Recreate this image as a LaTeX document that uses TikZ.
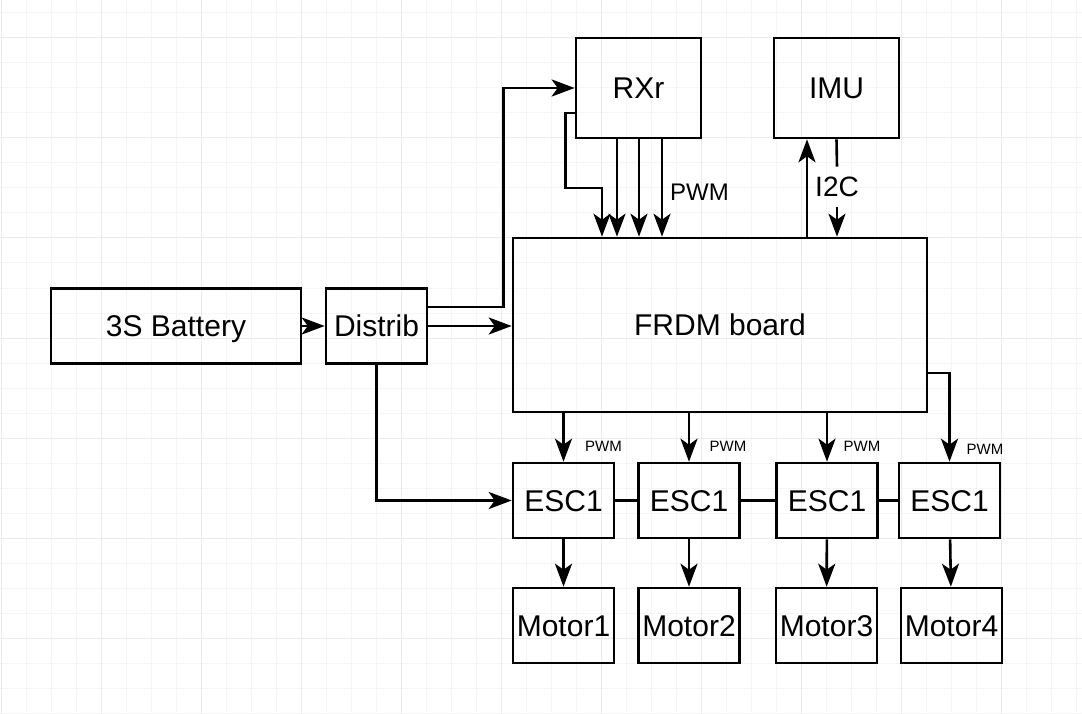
\documentclass[tikz,border=0pt]{standalone}
\usepackage{fontspec}
\setmainfont{Liberation Sans}
\usepackage{tikz}
\usetikzlibrary{calc, arrows.meta}

\begin{document}
\begin{tikzpicture}[x=1pt, y=-1pt, every path/.style={line width=2.6pt},
		blk/.style={draw, rectangle, inner sep=0pt, font=\fontsize{30}{35}\selectfont, text height=21.5pt, text depth=0pt},
		lbl/.style={inner sep=0pt, text depth=0pt},
		arr/.style={-{Stealth[length=23pt, width=17pt, inset=6pt]}},
		gridmin/.style={line width=1pt, black!4},
		gridmaj/.style={line width=1pt, black!8}]
			\useasboundingbox[fill=white] (0,0) rectangle (1082,714);
			\foreach \gx in {1,26,...,1076} \draw[gridmin] (\gx,0) -- (\gx,714);
			\foreach \gy in {13,38,...,713} \draw[gridmin] (0,\gy) -- (1082,\gy);
			\foreach \gx in {1,101,...,1001} \draw[gridmaj] (\gx,0) -- (\gx,714);
			\foreach \gy in {38,138,...,638} \draw[gridmaj] (0,\gy) -- (1082,\gy);
			\node[blk, minimum width=250, minimum height=75] (batt) at (176,326) {3S Battery};
			\node[blk, minimum width=101, minimum height=75] (dist) at (376.5,326) {Distrib};
			\node[blk, minimum width=414, minimum height=174] (frdm) at (720,325) {FRDM board};
			\node[blk, minimum width=125, minimum height=100] (rx) at (638.5,88) {RXr};
			\node[blk, minimum width=125, minimum height=100] (imu) at (836.5,88) {IMU};
			\foreach \i/\ex/\mx in {1/563.5/563.5, 2/689/689, 3/827/826.5, 4/949.5/951.5} {
				\node[blk, minimum width=101, minimum height=75] (esc\i) at (\ex,500.5) {ESC1};
				\node[blk, minimum width=101, minimum height=75] (m\i) at (\mx,625.5) {Motor\i};
			}
			\node[lbl, font=\fontsize{24}{28}\selectfont, text height=17pt] (pwmrx) at (699.5,192) {PWM};
			\node[lbl, font=\fontsize{28}{32}\selectfont, text height=20pt, inner ysep=9pt] (i2c) at (837,187) {I2C};
			\foreach \px/\py [count=\i] in {603.5/446, 728/446, 862/446, 985/448.5}
				\node[lbl, font=\fontsize{15}{18}\selectfont, text height=11pt] (pwm\i) at (\px,\py) {PWM};
			\draw[arr] (batt) -- (dist);
			\draw[arr] (dist.east) -- (dist.east -| frdm.west);
			\draw[arr] ([yshift=19pt]dist.east) -- ++(75,0) |- (rx.west);
			\draw[arr] (dist.south) |- (esc1.west);
			\draw[arr] ([yshift=-25pt]rx.west) -- ++(-9,0) -- ++(0,75) -| ([xshift=-36.5pt]rx.south |- frdm.north);
			\foreach \dx in {-21.5,0.5,23.5}
				\draw[arr] ([xshift=\dx pt]rx.south) -- ([xshift=\dx pt]rx.south |- frdm.north);
			\draw[arr] ([xshift=-29.5pt]imu.south |- frdm.north) -- ([xshift=-29.5pt]imu.south);
			\draw (imu.south) -- (i2c.north);
			\draw[arr] (i2c.south) -- (i2c.south |- frdm.north);
			\foreach \n in {esc1,esc2,esc3}
				\draw[arr] (\n.north |- frdm.south) -- (\n.north);
			\draw[arr] ([yshift=-48pt]frdm.east) -| (esc4.north);
			\draw (esc1) -- (esc2);
			\draw (esc2) -- (esc3);
			\draw (esc3) -- (esc4);
			\foreach \i in {1,...,4}
				\draw[arr] (esc\i) -- (m\i);
		\end{tikzpicture}
\end{document}
